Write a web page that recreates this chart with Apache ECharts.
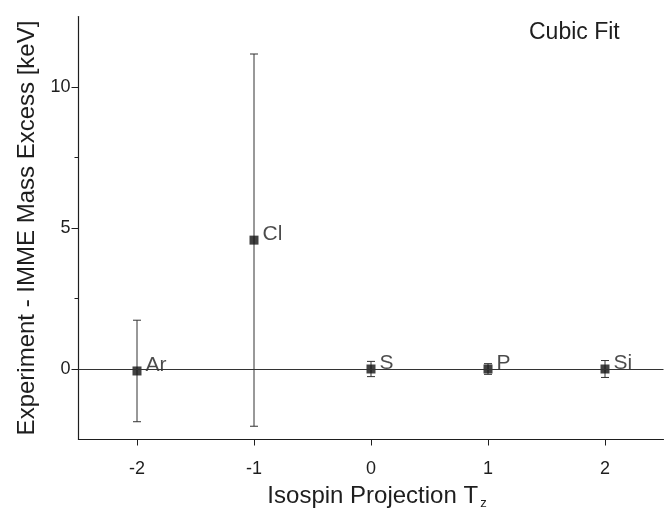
<!DOCTYPE html>
<html>
<head>
<meta charset="utf-8">
<script src="https://cdn.jsdelivr.net/npm/echarts@6/dist/echarts.min.js"></script>
<style>html,body{margin:0;padding:0;background:#fff;}#c{width:669px;height:508px;}</style>
</head>
<body>
<div id="c"></div>
<script>
const names = ['Ar', 'Cl', 'S', 'P', 'Si'];
const tz = [-2, -1, 0, 1, 2];
const values = [-0.07, 4.57, 0.0, 0.0, 0.0];
const errors = [1.8, 6.6, 0.27, 0.19, 0.3];
const xTicks = [-2, -1, 0, 1, 2];
const yTicks = [0, 5, 10];
const yMinorTicks = [2.5, 7.5];

const pts = tz.map((x, i) => [x, values[i], names[i]]);
const errData = tz.map((x, i) => [x, values[i] - errors[i], values[i] + errors[i]]);

const font = 'Liberation Sans, Arial, sans-serif';
const ink = '#1e1e1e';
const chart = echarts.init(document.getElementById('c'));
chart.setOption({
  animation: false,
  backgroundColor: '#fff',
  textStyle: { fontFamily: font },
  grid: { left: 78.5, right: 5.5, top: 16.5, bottom: 68.5, containLabel: false, outerBoundsMode: 'none' },
  xAxis: {
    type: 'value', min: -2.5, max: 2.5, interval: 0.5,
    name: '{a|Isospin Projection T}{b|z}',
    nameLocation: 'middle', nameGap: 44,
    nameTextStyle: {
      rich: {
        a: { fontSize: 24, color: ink, fontFamily: font, padding: [0, 0, 0, 12] },
        b: { fontSize: 13, color: ink, fontFamily: font, padding: [13, 0, 0, 2] }
      }
    },
    axisLine: { onZero: false, lineStyle: { color: ink, width: 1.2 } },
    axisTick: { show: true, customValues: xTicks, length: 6, lineStyle: { color: ink } },
    axisLabel: { customValues: xTicks, fontSize: 18, color: ink, margin: 21, fontFamily: font },
    splitLine: { show: false }
  },
  yAxis: [{
    type: 'value', min: -2.5, max: 12.5, interval: 2.5,
    name: 'Experiment - IMME Mass Excess [keV]',
    nameLocation: 'middle', nameGap: 38,
    nameTextStyle: { fontSize: 24, color: ink, fontFamily: font },
    axisLine: { show: true, onZero: false, lineStyle: { color: ink, width: 1.2 } },
    axisTick: { show: true, customValues: yTicks, length: 7, lineStyle: { color: ink } },
    axisLabel: { customValues: yTicks, fontSize: 18, color: ink, margin: 8, fontFamily: font },
    splitLine: { show: false }
  }, {
    type: 'value', min: -2.5, max: 12.5, interval: 2.5, position: 'left',
    axisLine: { show: false, onZero: false },
    axisTick: { show: true, customValues: yMinorTicks, length: 4, lineStyle: { color: ink } },
    axisLabel: { show: false },
    splitLine: { show: false }
  }],
  graphic: [{
    type: 'text', x: 529, y: 33,
    style: { text: 'Cubic Fit', fontSize: 23, fill: ink, fontFamily: font, verticalAlign: 'middle' }
  }],
  series: [{
    type: 'custom',
    data: errData,
    silent: true,
    z: 2,
    renderItem: function (params, api) {
      const x = api.value(0);
      const lo = api.coord([x, api.value(1)]);
      const hi = api.coord([x, api.value(2)]);
      const hw = 4;
      const st = { stroke: '#333', lineWidth: 1 };
      return {
        type: 'group',
        children: [
          { type: 'line', shape: { x1: lo[0], y1: lo[1], x2: hi[0], y2: hi[1] }, style: st },
          { type: 'line', shape: { x1: lo[0] - hw, y1: lo[1], x2: lo[0] + hw, y2: lo[1] }, style: st },
          { type: 'line', shape: { x1: hi[0] - hw, y1: hi[1], x2: hi[0] + hw, y2: hi[1] }, style: st }
        ]
      };
    }
  }, {
    type: 'scatter',
    data: pts,
    symbol: 'rect',
    symbolSize: 9,
    z: 3,
    itemStyle: { color: '#111' },
    label: {
      show: true, position: 'right', distance: 4, offset: [0, -6],
      formatter: p => p.data[2], fontSize: 21, color: ink, fontFamily: font
    },
    markLine: {
      silent: true, symbol: 'none', label: { show: false },
      lineStyle: { color: '#333', width: 1.2, type: 'solid' },
      data: [{ yAxis: 0 }]
    }
  }]
});
</script>
</body>
</html>
